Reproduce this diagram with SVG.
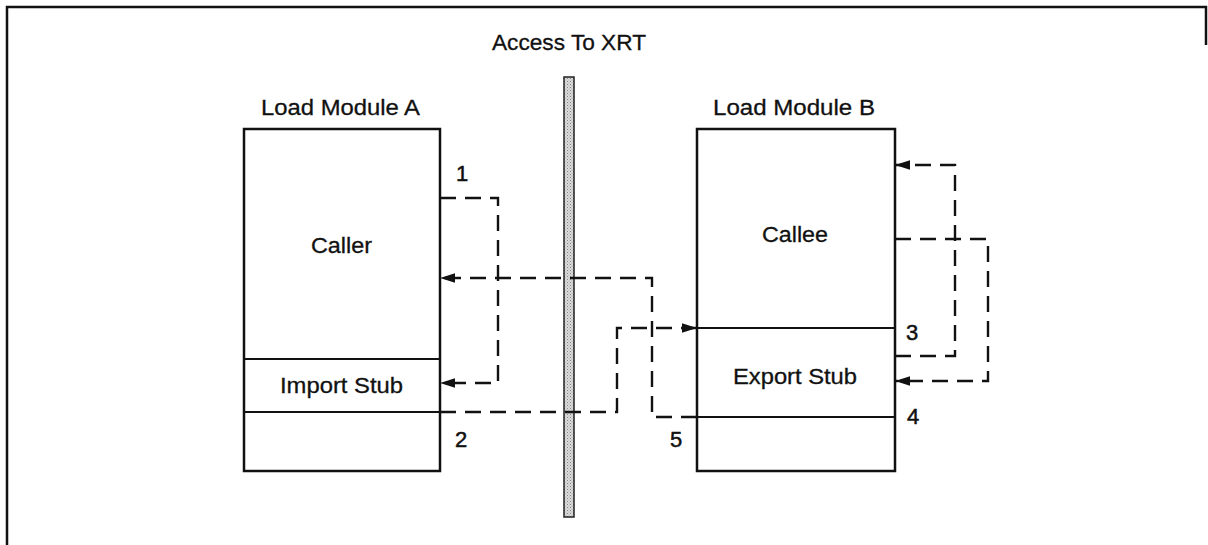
<svg xmlns="http://www.w3.org/2000/svg" width="1208" height="545" viewBox="0 0 1208 545">
  <style>
    .lbl { font-family: "Liberation Sans", Arial, sans-serif; font-size: 22px; fill: #111; stroke: #111; stroke-width: 0.3; }
    .num { font-family: "Liberation Sans", Arial, sans-serif; font-size: 22px; fill: #111; stroke: #111; stroke-width: 0.5; text-anchor: middle; }
    .box { fill: #fff; stroke: #111; stroke-width: 2.5; }
    .div { stroke: #111; stroke-width: 1.8; fill: none; }
    .frame { stroke: #111; stroke-width: 2.5; fill: none; }
    .dash { stroke: #111; stroke-width: 2.4; fill: none; stroke-dasharray: 16 9; }
  </style>
  <defs>
    <marker id="arr" markerUnits="userSpaceOnUse" markerWidth="16" markerHeight="12" refX="15" refY="6" orient="auto">
      <path d="M0,1.2 L15,6 L0,10.8 z" fill="#111"/>
    </marker>
    <pattern id="stipple" width="3" height="3" patternUnits="userSpaceOnUse">
      <rect width="3" height="3" fill="#dadada"/>
      <rect width="1" height="1" fill="#888"/>
      <rect x="1.5" y="1.5" width="1" height="1" fill="#aaa"/>
    </pattern>
  </defs>
  <rect width="1208" height="545" fill="#fff"/>

  <g id="frame">
    <polyline class="frame" points="7,545 7,7 1206,7 1206,45"/>
  </g>

  <g id="xrt">
    <rect x="564" y="77" width="10" height="440" fill="url(#stipple)" stroke="#222" stroke-width="1.5"/>
    <text class="lbl" x="492" y="50" textLength="154" lengthAdjust="spacingAndGlyphs">Access To XRT</text>
  </g>

  <g id="moduleA">
    <text class="lbl" x="261" y="115" textLength="159" lengthAdjust="spacingAndGlyphs">Load Module A</text>
    <rect class="box" x="244" y="129" width="196" height="342"/>
    <line class="div" x1="244" y1="359" x2="440" y2="359"/>
    <line class="div" x1="244" y1="412" x2="440" y2="412"/>
    <text class="lbl" x="311" y="253" textLength="61" lengthAdjust="spacingAndGlyphs">Caller</text>
    <text class="lbl" x="280" y="393" textLength="123" lengthAdjust="spacingAndGlyphs">Import Stub</text>
  </g>

  <g id="moduleB">
    <text class="lbl" x="713" y="115" textLength="162" lengthAdjust="spacingAndGlyphs">Load Module B</text>
    <rect class="box" x="697" y="129" width="198" height="342"/>
    <line class="div" x1="697" y1="328" x2="895" y2="328"/>
    <line class="div" x1="697" y1="417" x2="895" y2="417"/>
    <text class="lbl" x="762" y="242" textLength="66" lengthAdjust="spacingAndGlyphs">Callee</text>
    <text class="lbl" x="733" y="384" textLength="124" lengthAdjust="spacingAndGlyphs">Export Stub</text>
  </g>

  <g id="labels">
    <text class="num" x="462" y="181">1</text>
    <text class="num" x="461" y="447">2</text>
    <text class="num" x="912" y="340">3</text>
    <text class="num" x="913" y="424">4</text>
    <text class="num" x="676" y="447">5</text>
  </g>

  <g id="connectors">
    <path class="dash" d="M440,198 H498 V383 H440" marker-end="url(#arr)"/>
    <path class="dash" d="M440,412 H617 V328 H697" marker-end="url(#arr)"/>
    <path class="dash" d="M697,417 H652 V278 H440" marker-end="url(#arr)"/>
    <path class="dash" d="M895,356 H955 V165 H895" marker-end="url(#arr)"/>
    <path class="dash" d="M895,239 H988 V381 H895" marker-end="url(#arr)"/>
  </g>
</svg>
